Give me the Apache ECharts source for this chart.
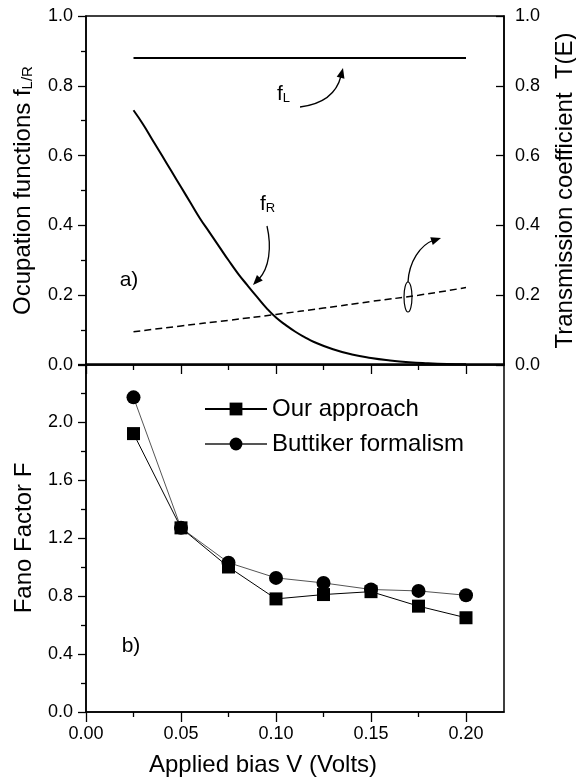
<!DOCTYPE html>
<html>
<head>
<meta charset="utf-8">
<script src="https://cdn.jsdelivr.net/npm/echarts@6/dist/echarts.min.js"></script>
<style>
  html, body { margin: 0; padding: 0; background: #fff; }
  #chart { width: 576px; height: 778px; }
</style>
</head>
<body>
<div id="chart"></div>
<script>
// Panel b): Fano factor versus applied bias
const biasV = [0.025, 0.05, 0.075, 0.10, 0.125, 0.15, 0.175, 0.20];
const fanoOurs = [1.92, 1.27, 1.00, 0.78, 0.81, 0.83, 0.73, 0.65];
const fanoButtiker = [2.17, 1.27, 1.03, 0.925, 0.89, 0.845, 0.835, 0.805];

// Panel a): occupation functions and transmission coefficient
const fLeftV = [0.025, 0.20];
const fLeft = [0.88, 0.88];
const fRightV = [0.025, 0.03, 0.035, 0.04, 0.045, 0.05, 0.055, 0.06, 0.065, 0.07,
                 0.075, 0.08, 0.085, 0.09, 0.095, 0.10, 0.105, 0.11, 0.115, 0.12,
                 0.13, 0.14, 0.15, 0.16, 0.17, 0.18, 0.19, 0.20];
const fRight = [0.73, 0.69, 0.645, 0.60, 0.555, 0.51, 0.465, 0.42, 0.38, 0.34,
                0.30, 0.262, 0.228, 0.195, 0.163, 0.136, 0.115, 0.096, 0.080, 0.066,
                0.045, 0.030, 0.020, 0.013, 0.008, 0.005, 0.003, 0.002];
const transV = [0.025, 0.05, 0.075, 0.10, 0.125, 0.15, 0.175, 0.20];
const trans = [0.095, 0.112, 0.128, 0.145, 0.163, 0.182, 0.200, 0.222];

// Tick positions on the bias axis
const xMajor = [0, 0.05, 0.10, 0.15, 0.20];
const xMinor = [0.025, 0.075, 0.125, 0.175];

const FONT = '"Liberation Sans", Arial, Helvetica, sans-serif';
const BLACK = '#000';

const zip = (xs, ys) => xs.map((x, i) => [x, ys[i]]);

const axisLineStyle = { show: true, onZero: false, lineStyle: { color: BLACK, width: 1.5 } };
const tickStyle = { color: BLACK, width: 1.3 };
const tickLabel = { color: BLACK, fontSize: 18, fontFamily: FONT };

function arrowHead(tip, from, len, half) {
  const dx = tip[0] - from[0], dy = tip[1] - from[1];
  const d = Math.hypot(dx, dy);
  const ux = dx / d, uy = dy / d;
  const bx = tip[0] - ux * len, by = tip[1] - uy * len;
  return [[tip[0], tip[1]], [bx - uy * half, by + ux * half], [bx + uy * half, by - ux * half]];
}

function curvedArrow(p0, c1, c2, p1, tip) {
  return [
    { type: 'bezierCurve', silent: true,
      shape: { x1: p0[0], y1: p0[1], cpx1: c1[0], cpy1: c1[1], cpx2: c2[0], cpy2: c2[1], x2: p1[0], y2: p1[1] },
      style: { stroke: BLACK, lineWidth: 1.3, fill: null } },
    { type: 'polygon', silent: true,
      shape: { points: arrowHead(tip, c2, 10, 4) },
      style: { fill: BLACK } }
  ];
}

const titleRich = {
  a: { fontSize: 24, lineHeight: 24, fontFamily: FONT, color: BLACK, verticalAlign: 'bottom' },
  s: { fontSize: 15, lineHeight: 8, fontFamily: FONT, color: BLACK, verticalAlign: 'bottom' }
};
const noteRich = {
  a: { fontSize: 21, lineHeight: 21, fontFamily: FONT, color: BLACK, verticalAlign: 'bottom' },
  s: { fontSize: 13, lineHeight: 7, fontFamily: FONT, color: BLACK, verticalAlign: 'bottom' }
};

const chart = echarts.init(document.getElementById('chart'), null, { renderer: 'canvas' });

chart.setOption({
  animation: false,
  backgroundColor: '#fff',
  grid: [
    { left: 86, right: 72, top: 16, height: 349, show: true, borderColor: BLACK, borderWidth: 1.5,
      containLabel: false, outerBoundsMode: 'none' },
    { left: 86, right: 72, top: 364, height: 348, show: true, borderColor: BLACK, borderWidth: 1.5,
      containLabel: false, outerBoundsMode: 'none' }
  ],
  xAxis: [
    { gridIndex: 0, type: 'value', min: 0, max: 0.22, position: 'bottom',
      axisLine: axisLineStyle,
      axisTick: { show: true, customValues: xMajor, length: 9, lineStyle: tickStyle },
      axisLabel: { show: false }, splitLine: { show: false } },
    { gridIndex: 0, type: 'value', min: 0, max: 0.22, position: 'bottom',
      axisLine: { show: false },
      axisTick: { show: true, customValues: xMinor, length: 5, lineStyle: tickStyle },
      axisLabel: { show: false }, splitLine: { show: false } },
    { gridIndex: 1, type: 'value', min: 0, max: 0.22, position: 'bottom',
      axisLine: axisLineStyle,
      axisTick: { show: true, customValues: xMajor, length: 10, lineStyle: tickStyle },
      axisLabel: Object.assign({ customValues: xMajor, margin: 13, formatter: v => v.toFixed(2) }, tickLabel),
      splitLine: { show: false } },
    { gridIndex: 1, type: 'value', min: 0, max: 0.22, position: 'bottom',
      axisLine: { show: false },
      axisTick: { show: true, customValues: xMinor, length: 5, lineStyle: tickStyle },
      axisLabel: { show: false }, splitLine: { show: false } }
  ],
  yAxis: [
    { gridIndex: 0, type: 'value', min: 0, max: 1, interval: 0.2, position: 'left',
      axisLine: axisLineStyle,
      axisTick: { show: true, length: 8, lineStyle: tickStyle },
      minorTick: { show: true, splitNumber: 2, length: 5, lineStyle: tickStyle },
      axisLabel: Object.assign({ margin: 13, formatter: v => v.toFixed(1) }, tickLabel),
      splitLine: { show: false }, minorSplitLine: { show: false },
      name: '{a|Ocupation functions f}{s|L/R}', nameLocation: 'middle', nameRotate: 90, nameGap: 51,
      nameTextStyle: { rich: titleRich } },
    { gridIndex: 0, type: 'value', min: 0, max: 1, interval: 0.2, position: 'right',
      axisLine: axisLineStyle,
      axisTick: { show: true, inside: true, length: 8, lineStyle: tickStyle },
      axisLabel: Object.assign({ margin: 11, formatter: v => v.toFixed(1) }, tickLabel),
      splitLine: { show: false },
      name: 'Transmission coefficient  T(E)', nameLocation: 'middle', nameRotate: 90, nameGap: 49,
      nameTextStyle: { color: BLACK, fontSize: 24, fontFamily: FONT } },
    { gridIndex: 1, type: 'value', min: 0, max: 2.4, interval: 0.4, position: 'left',
      axisLine: axisLineStyle,
      axisTick: { show: true, length: 8, lineStyle: tickStyle },
      minorTick: { show: true, splitNumber: 2, length: 5, lineStyle: tickStyle },
      axisLabel: Object.assign({ margin: 13, showMaxLabel: false, formatter: v => v.toFixed(1) }, tickLabel),
      splitLine: { show: false }, minorSplitLine: { show: false },
      name: 'Fano Factor F', nameLocation: 'middle', nameRotate: 90, nameGap: 50,
      nameTextStyle: { color: BLACK, fontSize: 24, fontFamily: FONT } }
  ],
  legend: {
    data: ['Our approach', 'Buttiker formalism'],
    orient: 'vertical', left: 199, top: 392,
    itemWidth: 62, itemHeight: 16, itemGap: 11,
    textStyle: { color: BLACK, fontSize: 24, fontFamily: FONT },
    selectedMode: false
  },
  series: [
    { name: 'f_L', type: 'line', xAxisIndex: 0, yAxisIndex: 0, data: zip(fLeftV, fLeft),
      symbol: 'none', lineStyle: { color: BLACK, width: 2 } },
    { name: 'f_R', type: 'line', xAxisIndex: 0, yAxisIndex: 0, data: zip(fRightV, fRight),
      symbol: 'none', smooth: true, lineStyle: { color: BLACK, width: 2 } },
    { name: 'T(E)', type: 'line', xAxisIndex: 0, yAxisIndex: 1, data: zip(transV, trans),
      symbol: 'none', smooth: true, lineStyle: { color: BLACK, width: 1.5, type: [7, 4] } },
    { name: 'Buttiker formalism', type: 'line', xAxisIndex: 2, yAxisIndex: 2, data: zip(biasV, fanoButtiker),
      symbol: 'circle', symbolSize: 14, itemStyle: { color: BLACK },
      lineStyle: { color: '#555', width: 1 } },
    { name: 'Our approach', type: 'line', xAxisIndex: 2, yAxisIndex: 2, data: zip(biasV, fanoOurs),
      symbol: 'rect', symbolSize: 13, itemStyle: { color: BLACK },
      lineStyle: { color: BLACK, width: 1 } }
  ],
  graphic: [
    { type: 'text', silent: true, x: 263, y: 765,
      style: { text: 'Applied bias V (Volts)', fill: BLACK, fontSize: 24, fontFamily: FONT, align: 'center', verticalAlign: 'middle' } },
    { type: 'text', silent: true, x: 129, y: 280,
      style: { text: 'a)', fill: BLACK, fontSize: 21, fontFamily: FONT, align: 'center', verticalAlign: 'middle' } },
    { type: 'text', silent: true, x: 131, y: 646,
      style: { text: 'b)', fill: BLACK, fontSize: 21, fontFamily: FONT, align: 'center', verticalAlign: 'middle' } },
    { type: 'text', silent: true, x: 277, y: 84,
      style: { text: '{a|f}{s|L}', rich: noteRich } },
    { type: 'text', silent: true, x: 260, y: 194,
      style: { text: '{a|f}{s|R}', rich: noteRich } },
    ...curvedArrow([300, 107], [324, 104], [337, 92], [341, 76], [343, 68]),
    ...curvedArrow([267, 226], [272, 248], [269, 268], [259, 279], [253, 285]),
    ...curvedArrow([408, 282], [409, 262], [420, 245], [434, 240], [441, 238]),
    { type: 'ellipse', silent: true, shape: { cx: 408, cy: 297, rx: 4, ry: 15 },
      style: { stroke: BLACK, lineWidth: 1.2, fill: null } }
  ]
});
</script>
</body>
</html>
